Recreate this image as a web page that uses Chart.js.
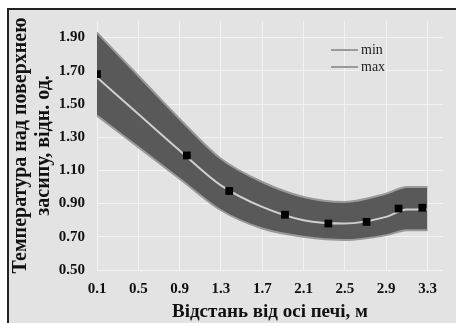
<!DOCTYPE html>
<html>
<head>
<meta charset="utf-8">
<script src="https://cdn.jsdelivr.net/npm/chart.js@4/dist/chart.umd.min.js"></script>
<style>
html,body{margin:0;padding:0;background:#fff;}
#wrap{width:456px;height:323px;}
</style>
</head>
<body>
<div id="wrap"><canvas id="c" width="456" height="323"></canvas></div>
<script>
// ---- data ----
const bandX    = [0.1, 0.5, 0.9, 1.3, 1.7, 2.1, 2.5, 2.9, 3.1, 3.3];
const maxVals  = [1.93, 1.67, 1.41, 1.17, 1.03, 0.94, 0.91, 0.96, 1.00, 1.00];
const meanVals = [1.66, 1.44, 1.22, 1.01, 0.88, 0.80, 0.78, 0.82, 0.865, 0.865];
const minVals  = [1.43, 1.24, 1.05, 0.86, 0.75, 0.70, 0.68, 0.71, 0.74, 0.74];
const markX    = [0.1, 0.97, 1.38, 1.92, 2.34, 2.71, 3.02, 3.25];
const markY    = [1.68, 1.19, 0.976, 0.833, 0.78, 0.79, 0.87, 0.875];
const xTicks   = [0.1, 0.5, 0.9, 1.3, 1.7, 2.1, 2.5, 2.9, 3.3];
const yTicks   = [0.5, 0.7, 0.9, 1.1, 1.3, 1.5, 1.7, 1.9];
const xTitle   = 'Відстань від осі печі, м';
const yTitle   = ['Температура над поверхнею', 'засипу, відн. од.'];
const legendLabels = ['min', 'max'];

const pts = (xs, ys) => xs.map((x, i) => ({x: x, y: ys[i]}));
const BG = '#e3e3e3';
const SERIF = "'Liberation Serif', 'Times New Roman', serif";

const bgPlugin = {
  id: 'bg',
  beforeDraw(chart) {
    const ctx = chart.ctx;
    ctx.save();
    ctx.fillStyle = '#ffffff';
    ctx.fillRect(0, 0, chart.width, chart.height);
    ctx.fillStyle = BG;
    ctx.fillRect(8, 9, chart.width - 8, chart.height - 9);
    ctx.fillStyle = '#222';
    ctx.fillRect(7, 8, chart.width - 7, 2);
    ctx.fillRect(7, 8, 2, chart.height - 8);
    ctx.restore();
  }
};

const legendPlugin = {
  id: 'innerLegend',
  afterDraw(chart) {
    const ctx = chart.ctx;
    ctx.save();
    const x0 = 331, x1 = 358, ys = [50, 67];
    ctx.font = '14px ' + SERIF;
    ctx.textBaseline = 'middle';
    legendLabels.forEach((lab, i) => {
      const ds = chart.data.datasets.find(d => d.label === lab);
      ctx.strokeStyle = ds ? ds.borderColor : '#888';
      ctx.lineWidth = 2;
      ctx.beginPath();
      ctx.moveTo(x0, ys[i]);
      ctx.lineTo(x1, ys[i]);
      ctx.stroke();
      ctx.fillStyle = '#222';
      ctx.fillText(lab, x1 + 3, ys[i]);
    });
    ctx.restore();
  }
};

new Chart(document.getElementById('c'), {
  type: 'line',
  data: {
    datasets: [
      { label: 'min', data: pts(bandX, minVals), borderColor: '#9a9a9a', borderWidth: 2,
        pointRadius: 0, fill: false, cubicInterpolationMode: 'monotone', order: 2 },
      { label: 'max', data: pts(bandX, maxVals), borderColor: '#9a9a9a', borderWidth: 2,
        pointRadius: 0, fill: 0, backgroundColor: '#595959', cubicInterpolationMode: 'monotone', order: 3 },
      { label: 'mean', data: pts(bandX, meanVals), borderColor: '#cfcfcf', borderWidth: 2,
        pointRadius: 0, fill: false, cubicInterpolationMode: 'monotone', order: 1 },
      { label: 'points', data: pts(markX, markY), showLine: false, pointStyle: 'rect',
        pointRadius: 5.5, pointBackgroundColor: '#000', pointBorderColor: '#000', pointBorderWidth: 0, order: 0 }
    ]
  },
  options: {
    responsive: false,
    animation: false,
    events: [],
    layout: { padding: { top: 18, right: 13, left: 0, bottom: 0 } },
    plugins: { legend: { display: false }, tooltip: { enabled: false } },
    scales: {
      x: {
        type: 'linear', min: 0.1, max: 3.45,
        afterBuildTicks: s => { s.ticks = xTicks.map(v => ({value: v})); },
        afterFit: s => { s.height = 53; },
        grid: { color: '#f3f3f3', lineWidth: 1, drawTicks: false },
        border: { display: false },
        ticks: { padding: 10, color: '#111', font: { family: SERIF, size: 15, weight: 'bold' },
                 callback: v => v.toFixed(1), maxRotation: 0, autoSkip: false },
        title: { display: true, text: xTitle, color: '#111', padding: { top: 0, bottom: 0 },
                 font: { family: SERIF, size: 19, weight: 'bold', lineHeight: 1.1 } }
      },
      y: {
        type: 'linear', min: 0.5, max: 2.0,
        afterBuildTicks: s => { s.ticks = yTicks.map(v => ({value: v})); },
        afterFit: s => { s.width = 97; },
        grid: { color: '#f3f3f3', lineWidth: 1, drawTicks: false },
        border: { display: false },
        ticks: { padding: 12, color: '#111', font: { family: SERIF, size: 15, weight: 'bold' },
                 callback: v => v.toFixed(2) },
        title: { display: true, text: yTitle, color: '#111', padding: { top: 9, bottom: 0 },
                 font: { family: SERIF, size: 20, weight: 'bold', lineHeight: 1.15 } }
      }
    }
  },
  plugins: [bgPlugin, legendPlugin]
});
</script>
</body>
</html>
